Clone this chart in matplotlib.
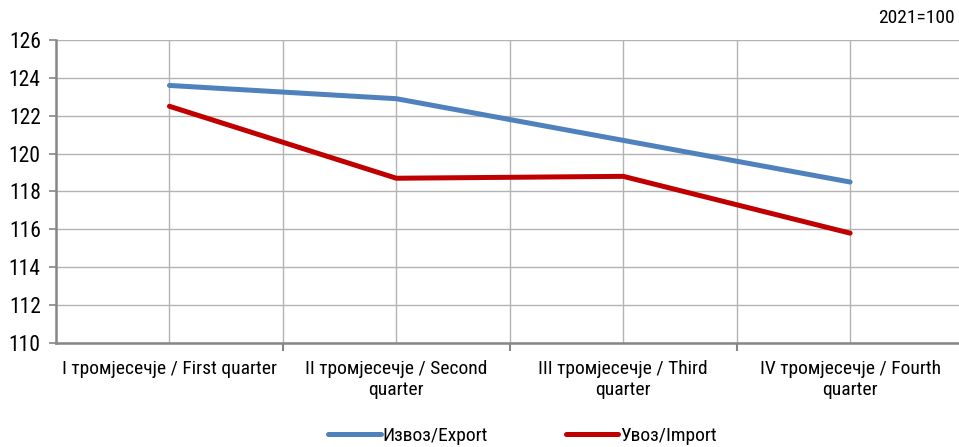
import matplotlib
matplotlib.use("Agg")
import matplotlib.pyplot as plt
from matplotlib import font_manager

# narrow font like the original, if one is installed
names = set(f.name for f in font_manager.fontManager.ttflist)
fam = 'Liberation Sans'
for cand in ['Liberation Sans Narrow', 'Arial Narrow', 'Roboto Condensed', 'PT Sans Narrow', 'Archivo Narrow']:
    if cand in names:
        fam = cand
        break
plt.rcParams['font.family'] = [fam, 'Liberation Sans', 'DejaVu Sans']

categories = ["I тромјесечје / First quarter",
              "II тромјесечје / Second\nquarter",
              "III тромјесечје / Third\nquarter",
              "IV тромјесечје / Fourth\nquarter"]
export_vals = [123.6, 122.9, 120.7, 118.5]
import_vals = [122.5, 118.7, 118.8, 115.8]
yticks = [110, 112, 114, 116, 118, 120, 122, 124, 126]

fig = plt.figure(figsize=(9.59, 4.47), dpi=100)
ax = fig.add_axes([0.0584, 0.2327, 0.9416, 0.6778])

x = list(range(len(categories)))
ax.plot(x, export_vals, color='#4F81BD', lw=3.6, solid_capstyle='round', label='Извоз/Export', zorder=3)
ax.plot(x, import_vals, color='#C00000', lw=3.6, solid_capstyle='round', label='Увоз/Import', zorder=3)

ax.set_xlim(-0.5, 3.48)
ax.set_ylim(110, 126)
ax.set_yticks(yticks)
ax.set_xticks([0.5, 1.5, 2.5])
ax.set_xticklabels([])
ax.set_xticks(x, minor=True)
ax.set_xticklabels(categories, minor=True, fontsize=14, linespacing=1.25)
ax.tick_params(axis='x', which='minor', length=0, pad=12)
ax.tick_params(axis='x', which='major', length=6, width=1.5, color='#868686')
ax.tick_params(axis='y', labelsize=15.5, length=5, width=1.2, color='#868686', pad=6)

for gx in [0, 0.5, 1, 1.5, 2, 2.5, 3]:
    ax.axvline(gx, color='#B3B3B3', lw=1, zorder=1)
ax.yaxis.grid(True, color='#B3B3B3', lw=1, zorder=1)
ax.set_axisbelow(True)

for s in ['top', 'right']:
    ax.spines[s].set_visible(False)
ax.spines['left'].set_color('#868686')
ax.spines['bottom'].set_color('#868686')
ax.spines['left'].set_linewidth(1.8)
ax.spines['bottom'].set_linewidth(1.8)

fig.text(0.996, 0.96, '2021=100', ha='right', va='center', fontsize=14)
fig.legend(loc='lower center', bbox_to_anchor=(0.545, -0.035), ncol=2, frameon=False,
           fontsize=14, handlelength=2.7, handletextpad=0.1, columnspacing=4.0)

fig.savefig('out.png', dpi=100)
